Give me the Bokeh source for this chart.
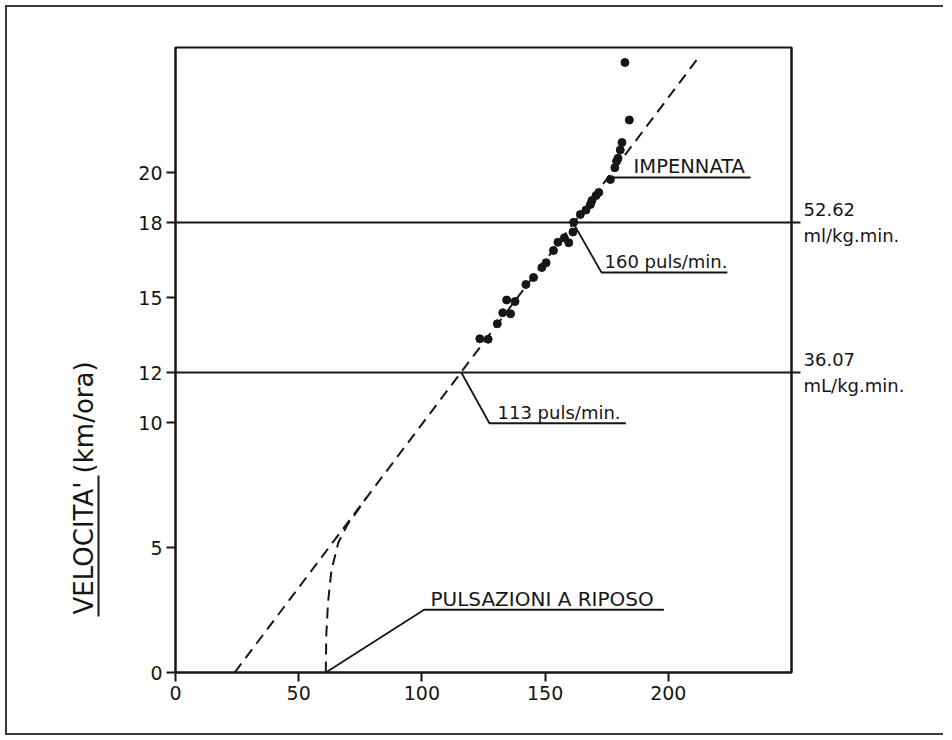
from bokeh.plotting import figure
from bokeh.models import FixedTicker, LinearAxis, Range1d, Span, Title
from bokeh.models import Label
from bokeh.embed import file_html
from bokeh.resources import INLINE

# ---- data ----
pulse = [123.5, 126.9, 130.6, 132.8, 136.0, 134.4, 137.8, 142.2, 145.3, 148.7,
         150.4, 153.4, 155.2, 157.8, 159.6, 161.3, 161.6, 164.3, 166.6, 168.4,
         169.0, 170.7, 171.8, 176.5, 178.3, 179.0, 179.6, 180.5, 181.2, 184.2, 182.4]
speed = [13.35, 13.33, 13.95, 14.39, 14.35, 14.90, 14.84, 15.52, 15.80, 16.20,
         16.39, 16.88, 17.21, 17.39, 17.19, 17.62, 18.01, 18.32, 18.50, 18.72,
         18.88, 19.08, 19.20, 19.72, 20.19, 20.45, 20.57, 20.90, 21.20, 22.10, 24.40]

fit_x = [24.0, 211.5]
fit_y = [0.0, 24.5]

rest_x = [61.0, 61.2, 61.9, 63.3, 66.1, 69.7, 73.4, 77.5]
rest_y = [0.0, 1.5, 2.8, 4.1, 5.2, 5.9, 6.4, 7.0]

x_ticks = [0, 50, 100, 150, 200]
y_ticks = [0, 5, 10, 12, 15, 18, 20]
levels = [12, 18]
level_labels = ["36.07\nmL/kg.min.", "52.62\nml/kg.min."]

notes = ["IMPENNATA", "160 puls/min.", "113 puls/min.", "PULSAZIONI A RIPOSO"]
note_x = [185.9, 174.1, 130.7, 103.5]
note_size = ["19.5px", "18px", "18px", "20px"]
leader_x = [[176.5, 233.4], [161.3, 172.9, 224.0], [116.0, 127.4, 182.8], [61.0, 100.9, 198.2]]
leader_y = [[19.8, 19.8], [18.0, 16.0, 16.0], [12.0, 9.97, 9.97], [0.0, 2.51, 2.51]]

INK = "#161616"
FONT = "DejaVu Sans"
EDGE = "#3a3a3a"

p = figure(width=936, height=726, output_backend="svg", toolbar_location=None,
           x_range=Range1d(0, 250), y_range=Range1d(0, 25),
           min_border_left=168, min_border_right=152, min_border_top=40, min_border_bottom=61,
           x_axis_type=None, y_axis_type=None, margin=(7, 0, 0, 7),
           styles={"box-shadow": f"-2px 0 0 {EDGE}, 0 -2px 0 {EDGE}, 0 2px 0 {EDGE}, -2px -2px 0 {EDGE}, -2px 2px 0 {EDGE}"})
p.grid.visible = False
p.outline_line_color = INK
p.outline_line_width = 2
p.background_fill_color = "white"
p.border_fill_color = "white"

xa = LinearAxis(ticker=FixedTicker(ticks=x_ticks))
ya = LinearAxis(ticker=FixedTicker(ticks=y_ticks))
for ax in (xa, ya):
    ax.axis_line_color = INK
    ax.axis_line_width = 2
    ax.major_tick_line_color = INK
    ax.major_tick_line_width = 2
    ax.major_tick_out = 9
    ax.major_tick_in = 0
    ax.minor_tick_line_color = None
    ax.major_label_text_font = FONT
    ax.major_label_text_font_size = "19px"
    ax.major_label_text_color = INK
    ax.major_label_standoff = 4
p.add_layout(xa, "below")
p.add_layout(ya, "left")

# invisible spacer (white tick at 0, labels not drawn) and underline for the axis title
spacer = LinearAxis(ticker=FixedTicker(ticks=[0]), major_tick_out=37, major_tick_in=0,
                    axis_line_color=None, minor_tick_line_color=None,
                    major_tick_line_color="white", major_label_text_color=None,
                    major_label_standoff=0)
p.add_layout(spacer, "left")
uline = LinearAxis(ticker=FixedTicker(ticks=[]), bounds=(2.25, 7.9), major_tick_out=0,
                   major_tick_in=0, axis_line_color=INK, axis_line_width=2,
                   minor_tick_line_color=None, major_tick_line_color=None)
p.add_layout(uline, "left")
p.add_layout(Title(text="VELOCITA' (km/ora)", align="left", offset=58, standoff=0,
                   text_font=FONT, text_font_size="26px", text_font_style="normal",
                   text_color=INK), "left")

# right-hand oxygen uptake values at the two reference speeds
ra = LinearAxis(ticker=FixedTicker(ticks=levels),
                major_label_overrides=dict(zip(levels, level_labels)),
                axis_line_color=INK, axis_line_width=2, major_tick_out=9, major_tick_in=0,
                major_tick_line_color=INK, major_tick_line_width=2, minor_tick_line_color=None,
                major_label_text_font=FONT, major_label_text_font_size="18px",
                major_label_text_color=INK, major_label_standoff=3)
p.add_layout(ra, "right")

for lv in levels:
    p.add_layout(Span(location=lv, dimension="width", line_color=INK, line_width=2))

# dashed fit line and resting curve
p.line(fit_x, fit_y, line_color=INK, line_width=2, line_dash="11 7")
p.line(rest_x, rest_y, line_color=INK, line_width=2, line_dash="11 7")

# measured points
p.scatter(pulse, speed, size=8, color=INK)

# leaders + underlines, with their notes
for txt, tx, fs, lx, ly in zip(notes, note_x, note_size, leader_x, leader_y):
    p.line(lx, ly, line_color=INK, line_width=1.8)
    p.add_layout(Label(x=tx, y=ly[-1] + 0.45, text=txt, text_font=FONT,
                       text_font_size=fs, text_color=INK, text_baseline="alphabetic"))

open("out.html", "w").write(file_html(p, INLINE))
